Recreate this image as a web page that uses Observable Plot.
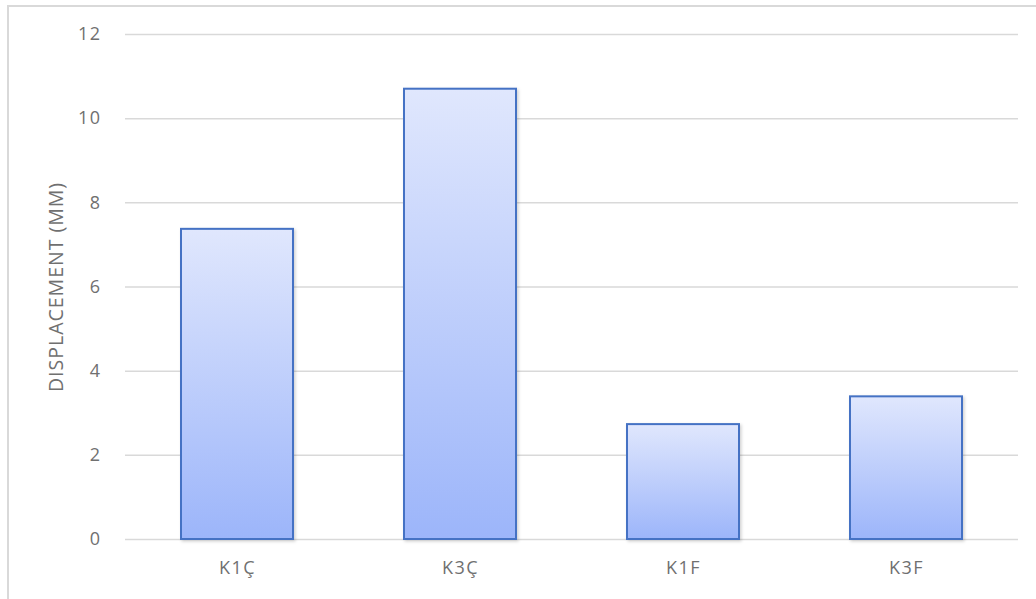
<!DOCTYPE html>
<html>
<head>
<meta charset="utf-8">
<script src="https://cdn.jsdelivr.net/npm/d3@7"></script>
<script src="https://cdn.jsdelivr.net/npm/@observablehq/plot@0.6"></script>
<style>
  html, body { margin: 0; padding: 0; background: #fff; }
  #wrap { position: relative; width: 1036px; height: 599px; overflow: hidden; }
  #frame { position: absolute; left: 7px; top: 5px; width: 1100px; height: 700px;
           border-left: 2px solid #d9d9d9; border-top: 2px solid #d9d9d9; box-sizing: border-box; pointer-events: none; }
  #chart { position: absolute; left: 0; top: 0; }
  #chart svg g[aria-label="x-axis tick label"] text,
  #chart svg g[aria-label="y-axis tick label"] text { letter-spacing: 1.5px; }
  #chart svg g[aria-label="text"] text { letter-spacing: 1px; }
</style>
</head>
<body>
<div id="wrap"><div id="chart"></div><div id="frame"></div></div>
<script>
const categories = ["K1Ç", "K3Ç", "K1F", "K3F"];
const values = [7.37, 10.70, 2.73, 3.39];
const yTicks = [0, 2, 4, 6, 8, 10, 12];
const yTitle = "DISPLACEMENT (MM)";

const data = categories.map((c, i) => ({category: c, value: values[i]}));

const textColor = "#707070";
const fontFamily = "'Open Sans', sans-serif";
const fs = 18;

function gradientDefs() {
  const defs = d3.create("svg:defs");
  const g = defs.append("linearGradient")
    .attr("id", "barGrad")
    .attr("x1", 0).attr("y1", 0).attr("x2", 0).attr("y2", 1);
  g.append("stop").attr("offset", "0%").attr("stop-color", "#e0e7fd");
  g.append("stop").attr("offset", "100%").attr("stop-color", "#9cb5fa");
  const f = defs.append("filter").attr("id", "shadow")
    .attr("x", "-10%").attr("y", "-10%").attr("width", "130%").attr("height", "130%");
  f.append("feDropShadow").attr("dx", 1.5).attr("dy", 1.5).attr("stdDeviation", 1.5)
    .attr("flood-color", "#000").attr("flood-opacity", 0.18);
  return defs.node();
}

const plot = Plot.plot({
  width: 1036,
  height: 599,
  marginLeft: 125,
  marginRight: 18,
  marginTop: 34,
  marginBottom: 60,
  style: {fontFamily, fontSize: fs + "px", color: textColor, background: "transparent"},
  x: {domain: categories, paddingInner: 0.5, paddingOuter: 0.25, label: null},
  y: {domain: [0, 12], label: null},
  marks: [
    gradientDefs,
    Plot.ruleY(yTicks, {stroke: "#d9d9d9", strokeWidth: 1.5}),
    Plot.barY(data, {
      x: "category", y: "value",
      fill: "url(#barGrad)", stroke: "#4472c4", strokeWidth: 2
    }),
    Plot.axisX({tickSize: 0, tickPadding: 22, label: null, fill: textColor, fontSize: fs}),
    Plot.axisY({ticks: yTicks, tickSize: 0, tickPadding: 24, label: null, fill: textColor, fontSize: fs}),
    Plot.text([yTitle], {
      frameAnchor: "left", dx: -69, rotate: -90, text: d => d,
      fill: textColor, fontSize: 19.5, textAnchor: "middle"
    })
  ]
});

plot.querySelectorAll("g[aria-label='bar'] rect").forEach(r => r.setAttribute("filter", "url(#shadow)"));
document.getElementById("chart").appendChild(plot);
</script>
</body>
</html>
